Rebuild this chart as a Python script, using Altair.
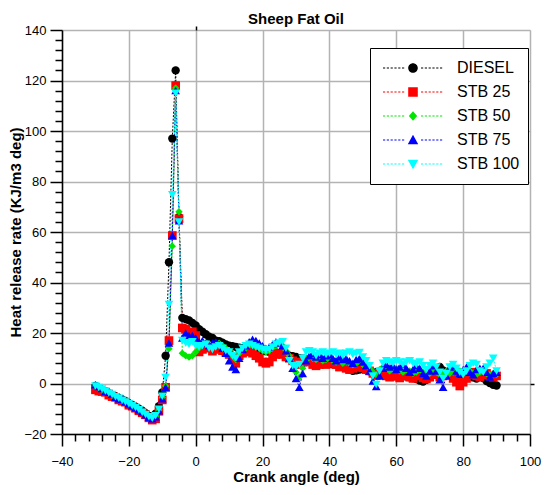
import altair as alt
import pandas as pd

# ---------------- data ----------------
angle = list(range(-30, 91))

diesel = [
    -1.0, -1.8, -2.5, -3.0, -3.8, -4.5, -5.0, -5.8, -6.3, -7.0,
    -7.8, -8.5, -9.2, -10.0, -10.8, -11.8, -12.8, -13.2, -12.0, -9.0,
    -3.5, 11.0, 48.0, 97.0, 124.0, 66.0, 26.0, 25.5, 25.0, 24.0,
    23.0, 21.5, 20.5, 19.5, 18.5, 18.0, 17.0, 16.8, 16.2, 15.5,
    15.0, 14.8, 14.5, 14.2, 14.0, 13.6, 13.4, 13.6, 13.2, 13.0,
    13.0, 12.8, 12.6, 12.5, 12.3, 12.0, 11.8, 11.5, 11.0, 10.8,
    10.5, 10.0, 9.8, 9.5, 9.2, 9.0, 8.8, 8.5, 8.2, 8.0,
    7.8, 7.6, 7.4, 7.2, 6.8, 6.5, 5.5, 5.0, 5.2, 5.5,
    5.8, 5.4, 4.8, 4.2, 4.5, 4.8, 4.4, 3.8, 3.6, 3.4,
    3.5, 3.2, 3.0, 2.8, 2.5, 2.2, 1.8, 1.2, 0.8, 1.5,
    2.5, 4.0, 5.5, 6.6, 5.2, 4.2, 3.6, 3.2, 3.0, 2.8,
    3.2, 3.6, 3.0, 2.4, 2.0, 2.6, 2.2, 1.0, 0.2, -0.5,
    -0.8,
]

stb25 = [
    -2.5, -3.0, -3.2, -3.5, -4.6, -5.2, -5.5, -6.5, -7.0, -7.4,
    -8.6, -9.0, -9.8, -10.8, -11.6, -12.4, -13.6, -14.5, -14.0, -11.0,
    -6.5, -1.5, 17.0, 58.6, 118.0, 65.3, 22.0, 21.5, 20.0, 20.5,
    19.0, 12.5, 13.5, 15.0, 14.0, 12.8, 13.5, 14.0, 13.0, 12.5,
    11.5, 10.0, 8.0, 11.0, 12.0, 12.5, 13.0, 12.0, 11.0, 10.0,
    8.5, 8.0, 8.5, 10.5, 11.5, 12.0, 11.5, 10.5, 10.0, 9.0,
    8.5, 7.5, 8.5, 9.5, 8.5, 7.5, 7.0, 7.5, 8.0, 7.5,
    8.0, 8.5, 7.5, 6.5, 7.0, 6.0, 5.5, 6.0, 6.5, 7.0,
    6.2, 5.5, 5.0, 4.0, 3.2, 3.8, 4.5, 3.0, 2.5, 3.5,
    2.8, 2.2, 3.0, 3.5, 2.5, 2.0, 3.0, 3.5, 2.2, 1.8,
    2.5, 4.0, 3.5, 2.5, 3.0, 4.0, 3.5, 2.0, 0.5, -1.0,
    0.5, 2.0, 3.5, 4.5, 3.0, 2.5, 3.5, 4.0, 3.0, 2.5,
    3.0,
]

stb50 = [
    -1.2, -1.5, -2.6, -2.8, -3.6, -4.8, -5.2, -5.6, -6.6, -7.2,
    -7.6, -8.6, -9.4, -10.2, -11.0, -12.0, -13.0, -13.8, -13.0, -10.5,
    -5.5, -1.0, 13.8, 54.4, 117.0, 68.0, 12.0, 11.0, 10.5, 11.0,
    12.5, 14.0, 15.5, 16.0, 15.0, 14.5, 15.5, 16.0, 15.0, 14.0,
    13.0, 11.0, 9.5, 12.0, 13.5, 14.0, 15.0, 15.5, 14.5, 14.0,
    13.0, 12.5, 13.0, 14.0, 15.0, 15.5, 15.0, 13.0, 11.0, 8.0,
    4.5, 2.5, 6.0, 9.0, 10.5, 10.0, 9.5, 10.0, 9.0, 9.5,
    10.0, 9.0, 8.5, 9.0, 8.0, 8.5, 8.0, 7.5, 8.0, 8.5,
    7.5, 7.0, 6.0, 4.5, 3.5, 5.5, 6.5, 6.0, 5.0, 5.5,
    6.0, 5.0, 4.5, 5.5, 5.0, 4.0, 4.5, 5.5, 4.5, 3.5,
    4.0, 5.0, 4.5, 3.5, 4.0, 5.0, 4.0, 4.5, 5.5, 5.0,
    4.0, 4.5, 5.0, 4.0, 3.5, 4.5, 5.0, 4.0, 3.5, 4.0,
    3.5,
]

stb75 = [
    -0.5, -1.2, -2.0, -3.2, -3.5, -4.2, -5.4, -6.0, -6.2, -7.2,
    -8.0, -8.8, -9.6, -10.4, -11.2, -12.4, -13.4, -14.0, -13.2, -10.8,
    -6.0, -1.6, 16.0, 58.6, 116.0, 64.5, 18.0, 20.0, 19.0, 19.0,
    18.0, 16.5, 17.0, 16.0, 15.0, 16.0, 16.5, 15.5, 14.0, 12.0,
    9.0, 6.5, 5.5, 10.0, 13.5, 15.0, 16.5, 17.5, 17.0, 16.0,
    15.0, 14.0, 14.5, 15.5, 16.5, 16.0, 15.0, 13.0, 10.0, 6.0,
    2.0, -1.5, 4.0, 9.0, 11.0, 12.0, 10.5, 11.5, 10.0, 11.0,
    11.5, 10.0, 9.0, 10.5, 9.5, 10.0, 9.0, 8.0, 9.5, 10.0,
    8.5, 7.0, 5.0, 1.0, -1.2, 3.0, 6.0, 7.5, 6.5, 7.0,
    5.5, 6.5, 7.5, 6.0, 4.5, 5.5, 7.0, 6.0, 4.0, 3.0,
    5.0, 7.0, 5.0, 1.5, -1.5, 3.0, 6.5, 7.0, 5.0, 4.0,
    5.5, 6.5, 4.5, 3.5, 5.5, 6.0, 6.0, 4.5, 2.6, 4.0,
    4.5,
]

stb100 = [
    -1.0, -1.6, -2.2, -3.0, -3.8, -4.4, -5.2, -5.8, -6.6, -7.3,
    -8.0, -8.8, -9.5, -10.4, -11.4, -12.3, -13.2, -13.8, -12.8, -10.2,
    -5.0, 2.4, 31.3, 74.8, 115.0, 64.0, 17.0, 16.0, 15.5, 16.5,
    15.0, 14.5, 15.0, 15.5, 14.0, 13.5, 14.5, 15.0, 14.0, 13.0,
    12.5, 11.0, 10.0, 12.5, 14.0, 15.0, 15.5, 15.0, 14.5, 14.0,
    13.5, 13.0, 13.5, 14.5, 15.5, 16.0, 16.5, 14.0, 9.0, 7.0,
    6.5, 7.5, 10.0, 12.5, 13.0, 12.5, 11.0, 12.0, 12.5, 11.5,
    12.0, 12.5, 11.5, 12.0, 11.0, 12.0, 12.5, 11.5, 12.0, 12.3,
    10.5, 9.0, 7.0, 3.0, -0.4, 5.0, 8.0, 9.0, 8.5, 8.0,
    9.0, 8.5, 7.5, 8.5, 9.0, 8.0, 7.5, 8.5, 7.0, 5.5,
    7.0, 8.0, 6.5, 4.5, 2.0, 4.0, 6.5, 7.5, 6.0, 4.5,
    3.5, 5.0, 7.0, 8.0, 7.5, 5.0, 4.5, 6.5, 8.0, 10.0,
    5.0,
]

series_names = ["DIESEL", "STB 25", "STB 50", "STB 75", "STB 100"]
series_values = [diesel, stb25, stb50, stb75, stb100]
colors = ["#000000", "#ff0000", "#00e600", "#0000ff", "#00ffff"]
shapes = ["circle", "square", "diamond", "triangle-up", "triangle-down"]
sizes = [70, 75, 55, 75, 75]

x_major = list(range(-40, 101, 20))
x_minor = [v for v in range(-40, 101, 4) if v % 20 != 0]
y_major = list(range(-20, 141, 20))
y_minor = [v for v in range(-20, 141, 4) if v % 20 != 0]

rows = []
for name, vals in zip(series_names, series_values):
    for a, v in zip(angle, vals):
        rows.append({"angle": a, "value": v, "series": name})
df = pd.DataFrame(rows)

FONT = "Liberation Sans, Arial, Helvetica, sans-serif"

# ---------------- legend symbols: dotted line + marker ----------------
U = 35.0          # px per unit of the symbol path; symbol size = (2U)^2
LEG_SIZE = int((2 * U) ** 2)


def f(v):
    return f"{v / U:.4f}"


def dotted(half=30.0, gap_half=5.5, dash=2.2, gap=1.6, thick=1.0):
    parts = []
    x = -half
    while x < half:
        x2 = min(x + dash, half)
        if x2 <= -gap_half or x >= gap_half:
            parts.append(f"M{f(x)},{f(-thick / 2)}H{f(x2)}V{f(thick / 2)}H{f(x)}Z")
        x += dash + gap
    return "".join(parts)


r = 4.8
marker_paths = [
    f"M{f(-r)},0A{f(r)},{f(r)} 0 1,1 {f(r)},0A{f(r)},{f(r)} 0 1,1 {f(-r)},0Z",
    f"M{f(-r)},{f(-r)}H{f(r)}V{f(r)}H{f(-r)}Z",
    f"M0,{f(-4.8)}L{f(4.2)},0L0,{f(4.8)}L{f(-4.2)},0Z",
    f"M0,{f(-5.2)}L{f(5.2)},{f(4.2)}L{f(-5.2)},{f(4.2)}Z",
    f"M0,{f(5.2)}L{f(5.2)},{f(-4.2)}L{f(-5.2)},{f(-4.2)}Z",
]
legend_paths = [dotted() + m for m in marker_paths]

# ---------------- scales / axes ----------------
xs = alt.Scale(domain=[-40, 100], nice=False, zero=False)
ys = alt.Scale(domain=[-20, 140], nice=False, zero=False)
color_scale = alt.Scale(domain=series_names, range=colors)

common_axis = dict(tickColor="black", tickWidth=1.5, labelFont=FONT,
                   titleFont=FONT, labelColor="black", titleColor="black",
                   labelFlush=False, labelOverlap=False)

x_axis_major = alt.Axis(orient="bottom", values=x_major, title="Crank angle (deg)",
                        grid=True, gridColor="#b3b3b3", gridWidth=1.5,
                        tickSize=12, domainColor="black", domainWidth=1.5,
                        labelFontSize=13, labelPadding=9, titleFontSize=15,
                        titleFontWeight="bold", titlePadding=1, **common_axis)
y_axis_major = alt.Axis(orient="left", values=y_major,
                        title="Heat release rate (KJ/m3 deg)",
                        grid=True, gridColor="#b3b3b3", gridWidth=1.5,
                        tickSize=12, domainColor="black", domainWidth=1.5,
                        labelFontSize=13, labelPadding=4, titleFontSize=15,
                        titleFontWeight="bold", titlePadding=0, **common_axis)
x_axis_minor = alt.Axis(orient="bottom", values=x_minor, labels=False, grid=False,
                        domain=False, tickSize=7, title=None, **common_axis)
y_axis_minor = alt.Axis(orient="left", values=y_minor, labels=False, grid=False,
                        domain=False, tickSize=7, title=None, **common_axis)
x_axis_top = alt.Axis(orient="top", values=[0], labels=False, grid=False,
                      domain=False, tickSize=4, title=None, **common_axis)
y_axis_right = alt.Axis(orient="right", values=[0], labels=False, grid=False,
                        domain=False, tickSize=4, title=None, **common_axis)

base = alt.Chart(df)

layers = []
for i, (name, col) in enumerate(zip(series_names, colors)):
    if i == 0:
        xa, ya = x_axis_major, y_axis_major
    elif i == 1:
        xa, ya = x_axis_top, y_axis_right
    else:
        xa, ya = None, None
    layers.append(
        base.transform_filter(alt.datum.series == name)
        .mark_line(strokeDash=[2, 1.5], strokeWidth=1, color=col)
        .encode(
            x=alt.X("angle:Q", scale=xs, axis=xa),
            y=alt.Y("value:Q", scale=ys, axis=ya),
            order=alt.Order("angle:Q"),
        )
    )

for name, col, shp, sz in zip(series_names, colors, shapes, sizes):
    layers.append(
        base.transform_filter(alt.datum.series == name)
        .mark_point(shape=shp, filled=True, size=sz, opacity=1, color=col)
        .encode(
            x=alt.X("angle:Q", scale=xs, axis=None),
            y=alt.Y("value:Q", scale=ys, axis=None),
        )
    )

leg = alt.Legend(title=None, orient="none", legendX=308, legendY=18,
                 padding=8, rowPadding=0, clipHeight=24,
                 symbolSize=LEG_SIZE, symbolStrokeWidth=0,
                 labelFont=FONT, labelFontSize=16, labelColor="black",
                 labelOffset=9, labelLimit=0,
                 strokeColor="black", fillColor="white")

legend_layer = base.transform_filter("datum.angle > 999").mark_point(
    filled=True, opacity=1, size=LEG_SIZE
).encode(
    x=alt.X("angle:Q", scale=xs, axis=x_axis_minor),
    y=alt.Y("value:Q", scale=ys, axis=y_axis_minor),
    color=alt.Color("series:N", scale=color_scale, legend=leg),
    shape=alt.Shape("series:N", scale=alt.Scale(domain=series_names, range=legend_paths),
                    legend=leg),
)
layers.append(legend_layer)

chart = alt.layer(*layers).resolve_axis(
    x="independent", y="independent"
).properties(
    width=468,
    height=404,
    title=alt.Title("Sheep Fat Oil", fontSize=15, fontWeight="bold", font=FONT,
                    anchor="middle", offset=4, dy=7, color="black", frame="group"),
    autosize=alt.AutoSizeParams(type="none"),
    padding={"left": 54, "top": 22, "right": 13, "bottom": 53},
).configure_view(stroke="black", strokeWidth=1.5).configure(background="white")

chart.save("out.html", embed_options={"renderer": "svg", "actions": False})
